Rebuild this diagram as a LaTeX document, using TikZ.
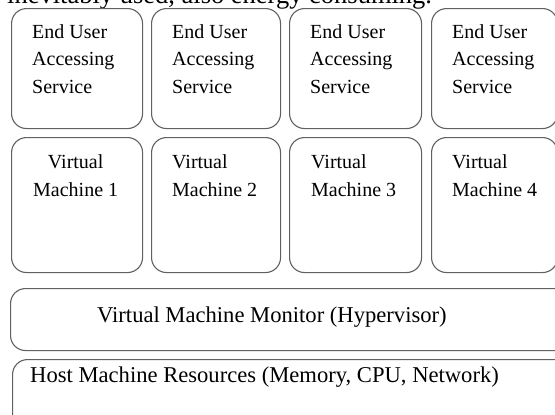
\documentclass[tikz,border=0pt]{standalone}
\usepackage{fontspec}
\setmainfont{Liberation Serif}
\usetikzlibrary{calc}

\tikzset{
  tile/.style={draw=black!62, line width=1.1pt, rounded corners=15pt,
    anchor=north west, inner sep=0pt},
  tiletext/.style={font=\fontsize{20}{27.5}\selectfont, inner sep=0pt,
    anchor=base west},
  layertext/.style={font=\fontsize{22.6}{26}\selectfont, inner sep=0pt,
    anchor=base west}
}

\begin{document}
\begin{tikzpicture}[x=1pt,y=-1pt]
        \clip (0,0) rectangle (555,415);
        \fill [white] (0,0) rectangle (555,415);
        % cut-off line of the running text above
        \node [font=\fontsize{26.5}{30}\selectfont, inner sep=0pt, anchor=base west] (caption) at (7,3.5) {inevitably used, also energy consuming.};
        % end users and virtual machines (base = last line)
        \foreach \x/\w/\t/\n in {11/131/32/1, 151/129/172/2, 289/132/310/3, 431/126/452/4} {
            \node [tile, minimum width=\w pt, minimum height=120pt] (user\n) at (\x,8) {};
            \node [tiletext, align=left] (usertext\n) at (\t,93) {End User\\Accessing\\Service};
            \node [tile, minimum width=\w pt, minimum height=135pt] (vm\n) at (\x,137) {};
        }
        \node [tiletext, align=center] (vmtext1) at (33,196) {Virtual\\Machine 1};
        \foreach \t/\n in {172/2, 311/3, 452/4}
            \node [tiletext, align=left] (vmtext\n) at (\t,196) {Virtual\\Machine \n};
        % hypervisor and host
        \node [tile, minimum width=560pt, minimum height=62pt] (hyper) at (10,288) {};
        \node [layertext] (hypertext) at (97,322) {Virtual Machine Monitor (Hypervisor)};
        \node [tile, minimum width=560pt, minimum height=80pt] (host) at (12,359) {};
        \node [layertext] (hosttext) at (30,382) {Host Machine Resources (Memory, CPU, Network)};
\end{tikzpicture}
\end{document}
